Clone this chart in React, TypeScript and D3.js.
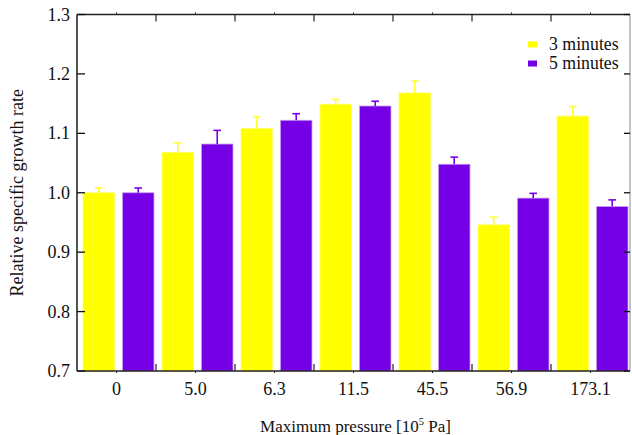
import React from "react";
import * as d3 from "d3";

const categories = ["0", "5.0", "6.3", "11.5", "45.5", "56.9", "173.1"];
const seriesNames = ["3 minutes", "5 minutes"];
const threeMin = [1.0, 1.068, 1.108, 1.149, 1.168, 0.946, 1.129];
const threeErr = [0.008, 0.016, 0.02, 0.008, 0.02, 0.013, 0.016];
const fiveMin = [1.0, 1.082, 1.122, 1.146, 1.048, 0.991, 0.977];
const fiveErr = [0.008, 0.023, 0.011, 0.008, 0.012, 0.008, 0.011];
const yTicks = [0.7, 0.8, 0.9, 1.0, 1.1, 1.2, 1.3];

const colors = ["#ffff00", "#7500e5"];
const strokes = ["#ffff66", "#c7a0f2"];

const W = 632;
const H = 435;
const left = 77;
const right = 630;
const top = 14.5;
const bottom = 371;
const ts = { fontFamily: "Liberation Serif" };

export default function App() {
  const x0 = d3.scaleBand<string>().domain(categories).range([left, right]).padding(0);
  const x1 = d3.scaleBand<string>().domain(seriesNames).range([6, 77]).paddingInner(0.2);
  const y = d3.scaleLinear().domain([0.7, 1.3]).range([bottom, top]);
  const values = [threeMin, fiveMin];
  const errs = [threeErr, fiveErr];
  const bw = x1.bandwidth();
  const step = x0.step();

  return (
    <svg width={W} height={H} style={{ position: "absolute", left: 0, top: 0, background: "#fff" }}>
      {/* bars */}
      {seriesNames.map((s, si) =>
        categories.map((c, ci) => {
          const bx = (x0(c) as number) + (x1(s) as number);
          const v = values[si][ci];
          const e = errs[si][ci];
          const cx = bx + bw / 2;
          const ec = si === 0 ? "#ffff33" : colors[si];
          return (
            <g key={s + c}>
              <rect
                x={bx}
                y={y(v)}
                width={bw}
                height={bottom - y(v)}
                fill={colors[si]}
                stroke={strokes[si]}
                strokeWidth={0.8}
              />
              <line x1={cx} x2={cx} y1={y(v)} y2={y(v + e)} stroke={ec} strokeWidth={1.6} />
              <line x1={cx - 3.8} x2={cx + 3.8} y1={y(v + e)} y2={y(v + e)} stroke={ec} strokeWidth={1.6} />
            </g>
          );
        })
      )}

      {/* frame */}
      <line x1={left} x2={left} y1={top} y2={bottom} stroke="#555" strokeWidth={2} />
      <line x1={right} x2={right} y1={top} y2={bottom} stroke="#888" strokeWidth={1} />
      <line x1={left} x2={right} y1={top} y2={top} stroke="#222" strokeWidth={1.3} />
      <line x1={left} x2={right} y1={bottom} y2={bottom} stroke="#222" strokeWidth={1.3} />

      {/* y ticks */}
      {yTicks.map((t) => (
        <g key={t}>
          <line x1={left} x2={left + 8} y1={y(t)} y2={y(t)} stroke="#111" strokeWidth={1.3} />
          <line x1={right - 6} x2={right} y1={y(t)} y2={y(t)} stroke="#111" strokeWidth={1.3} />
          <text x={70} y={y(t) + 6} textAnchor="end" fontSize={18} fill="#111" style={ts}>
            {t.toFixed(1)}
          </text>
        </g>
      ))}

      {/* x ticks */}
      {categories.map((c, i) => {
        const b = x0(c) as number;
        const cx = b + step / 2;
        return (
          <g key={c}>
            {i > 0 && (
              <>
                <line x1={b} x2={b} y1={bottom} y2={bottom - 7} stroke="#222" strokeWidth={1.2} />
                <line x1={b} x2={b} y1={top} y2={top + 7} stroke="#222" strokeWidth={1.2} />
              </>
            )}
            <line x1={cx} x2={cx} y1={bottom} y2={bottom + 2} stroke="#222" strokeWidth={1} />
            <line x1={cx} x2={cx} y1={top} y2={top - 2} stroke="#222" strokeWidth={1} />
            <text x={cx} y={395} textAnchor="middle" fontSize={18} fill="#111" style={ts}>
              {c}
            </text>
          </g>
        );
      })}

      {/* axis titles */}
      <text x={(left + right) / 2 + 2} y={432} textAnchor="middle" fontSize={17} fill="#111" style={ts}>
        Maximum pressure [10
        <tspan fontSize={10.5} dy={-7}>5</tspan>
        <tspan dy={7}> Pa]</tspan>
      </text>
      <text
        transform={`translate(23, ${(top + bottom) / 2}) rotate(-90)`}
        textAnchor="middle"
        fontSize={18}
        fill="#111"
        style={ts}
      >
        Relative specific growth rate
      </text>

      {/* legend */}
      {seriesNames.map((s, i) => (
        <g key={s} transform={`translate(528, ${41.5 + i * 19})`}>
          <rect x={0} y={0} width={9} height={6} fill={colors[i]} />
          <text x={21} y={8} fontSize={17.8} fill="#111" style={ts}>
            {s}
          </text>
        </g>
      ))}
    </svg>
  );
}
